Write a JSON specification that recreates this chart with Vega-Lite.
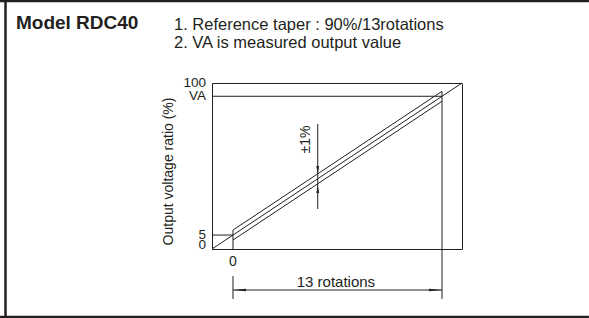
{
  "$schema": "https://vega.github.io/schema/vega-lite/v6.json",
  "width": 250,
  "height": 166,
  "autosize": {"type": "none"},
  "padding": {"left": 212, "top": 83, "right": 127, "bottom": 69},
  "background": "white",
  "config": {
    "view": {"stroke": "#231f20", "strokeWidth": 1},
    "text": {"font": "Liberation Sans", "color": "#231f20"}
  },
  "datasets": {
    "lines": [
      {"part": "ideal", "x": -1.306, "y": 0, "x2": 14.244, "y2": 100},
      {"part": "upper", "x": 0, "y": 11.4, "x2": 13, "y2": 95.0},
      {"part": "lower", "x": 0, "y": 5.4, "x2": 13, "y2": 89.0},
      {"part": "VA", "x": -1.306, "y": 92.0, "x2": 13, "y2": 92.0},
      {"part": "five", "x": -1.306, "y": 8.4, "x2": 0, "y2": 8.4},
      {"part": "zero", "x": 0, "y": 11.4, "x2": 0, "y2": 0},
      {"part": "end", "x": 13, "y": 95.0, "x2": 13, "y2": -30.1},
      {"part": "ext", "x": 0, "y": -16.3, "x2": 0, "y2": -30.1},
      {"part": "dim", "x": 0, "y": -24.7, "x2": 13, "y2": -24.7},
      {"part": "tol", "x": 5.27, "y": 75.3, "x2": 5.27, "y2": 24.1}
    ],
    "frame": [
      {"x": -14.49, "y": 149.4, "x2": 22.14, "y2": 149.4},
      {"x": -14.49, "y": -41.0, "x2": 22.14, "y2": -41.0},
      {"x": -14.15, "y": 149.4, "x2": -14.15, "y2": -41.0}
    ],
    "arrows": [
      {"dir": "down", "x": 5.27, "y": 45.2},
      {"dir": "up", "x": 5.27, "y": 38.6},
      {"dir": "left", "x": 0, "y": -24.7},
      {"dir": "right", "x": 13, "y": -24.7}
    ],
    "ylabels": [
      {"t": "100", "x": -1.306, "y": 100},
      {"t": "VA", "x": -1.306, "y": 92.0},
      {"t": "5", "x": -1.306, "y": 8.4}
    ]
  },
  "encoding": {
    "x": {"field": "x", "type": "quantitative", "scale": {"domain": [-1.306, 14.244], "nice": false, "zero": false}, "axis": null},
    "y": {"field": "y", "type": "quantitative", "scale": {"domain": [0, 100], "nice": false, "zero": false}, "axis": null}
  },
  "layer": [
    {
      "data": {"name": "frame"},
      "mark": {"type": "rule", "color": "#231f20", "strokeWidth": 2.5},
      "encoding": {"x2": {"field": "x2"}, "y2": {"field": "y2"}}
    },
    {
      "data": {"name": "lines"},
      "mark": {"type": "rule", "color": "#231f20", "strokeWidth": 1},
      "encoding": {"x2": {"field": "x2"}, "y2": {"field": "y2"}}
    },
    {
      "data": {"name": "arrows"},
      "transform": [{"filter": "datum.dir === 'down'"}],
      "mark": {"type": "point", "filled": true, "opacity": 1, "color": "#231f20", "shape": "M0,0L-0.35,-2L0.35,-2Z", "size": 64}
    },
    {
      "data": {"name": "arrows"},
      "transform": [{"filter": "datum.dir === 'up'"}],
      "mark": {"type": "point", "filled": true, "opacity": 1, "color": "#231f20", "shape": "M0,0L-0.35,2L0.35,2Z", "size": 64}
    },
    {
      "data": {"name": "arrows"},
      "transform": [{"filter": "datum.dir === 'left'"}],
      "mark": {"type": "point", "filled": true, "opacity": 1, "color": "#231f20", "shape": "M0,0L2,-0.2L2,0.2Z", "size": 169}
    },
    {
      "data": {"name": "arrows"},
      "transform": [{"filter": "datum.dir === 'right'"}],
      "mark": {"type": "point", "filled": true, "opacity": 1, "color": "#231f20", "shape": "M0,0L-2,-0.2L-2,0.2Z", "size": 169}
    },
    {
      "data": {"name": "ylabels"},
      "mark": {"type": "text", "align": "right", "baseline": "middle", "dx": -6, "fontSize": 13.5},
      "encoding": {"text": {"field": "t"}}
    },
    {
      "data": {"values": [{"t": "0", "x": -1.306, "y": 0}]},
      "mark": {"type": "text", "align": "right", "baseline": "alphabetic", "dx": -6, "fontSize": 13.5},
      "encoding": {"text": {"field": "t"}}
    },
    {
      "data": {"values": [{"t": "0", "x": 0, "y": -7.6}]},
      "mark": {"type": "text", "align": "center", "baseline": "middle", "fontSize": 14},
      "encoding": {"text": {"field": "t"}}
    },
    {
      "data": {"values": [{"t": "13 rotations", "x": 6.4, "y": -19.6}]},
      "mark": {"type": "text", "align": "center", "baseline": "middle", "fontSize": 15},
      "encoding": {"text": {"field": "t"}}
    },
    {
      "data": {"values": [{"t": "Output voltage ratio (%)", "x": -3.98, "y": 46.7}]},
      "mark": {"type": "text", "align": "center", "baseline": "middle", "angle": 270, "fontSize": 14},
      "encoding": {"text": {"field": "t"}}
    },
    {
      "data": {"values": [{"t": "±1%", "x": 4.54, "y": 66.0}]},
      "mark": {"type": "text", "align": "center", "baseline": "middle", "angle": 270, "fontSize": 14},
      "encoding": {"text": {"field": "t"}}
    },
    {
      "data": {"values": [{"t": "Model RDC40", "x": -13.5, "y": 132.8}]},
      "mark": {"type": "text", "align": "left", "baseline": "alphabetic", "fontSize": 19, "fontWeight": "bold"},
      "encoding": {"text": {"field": "t"}}
    },
    {
      "data": {"values": [
        {"t": "1. Reference taper : 90%/13rotations", "x": -3.67, "y": 132.2},
        {"t": "2. VA is measured output value", "x": -3.67, "y": 121.2}
      ]},
      "mark": {"type": "text", "align": "left", "baseline": "alphabetic", "fontSize": 16.5},
      "encoding": {"text": {"field": "t"}}
    }
  ]
}
